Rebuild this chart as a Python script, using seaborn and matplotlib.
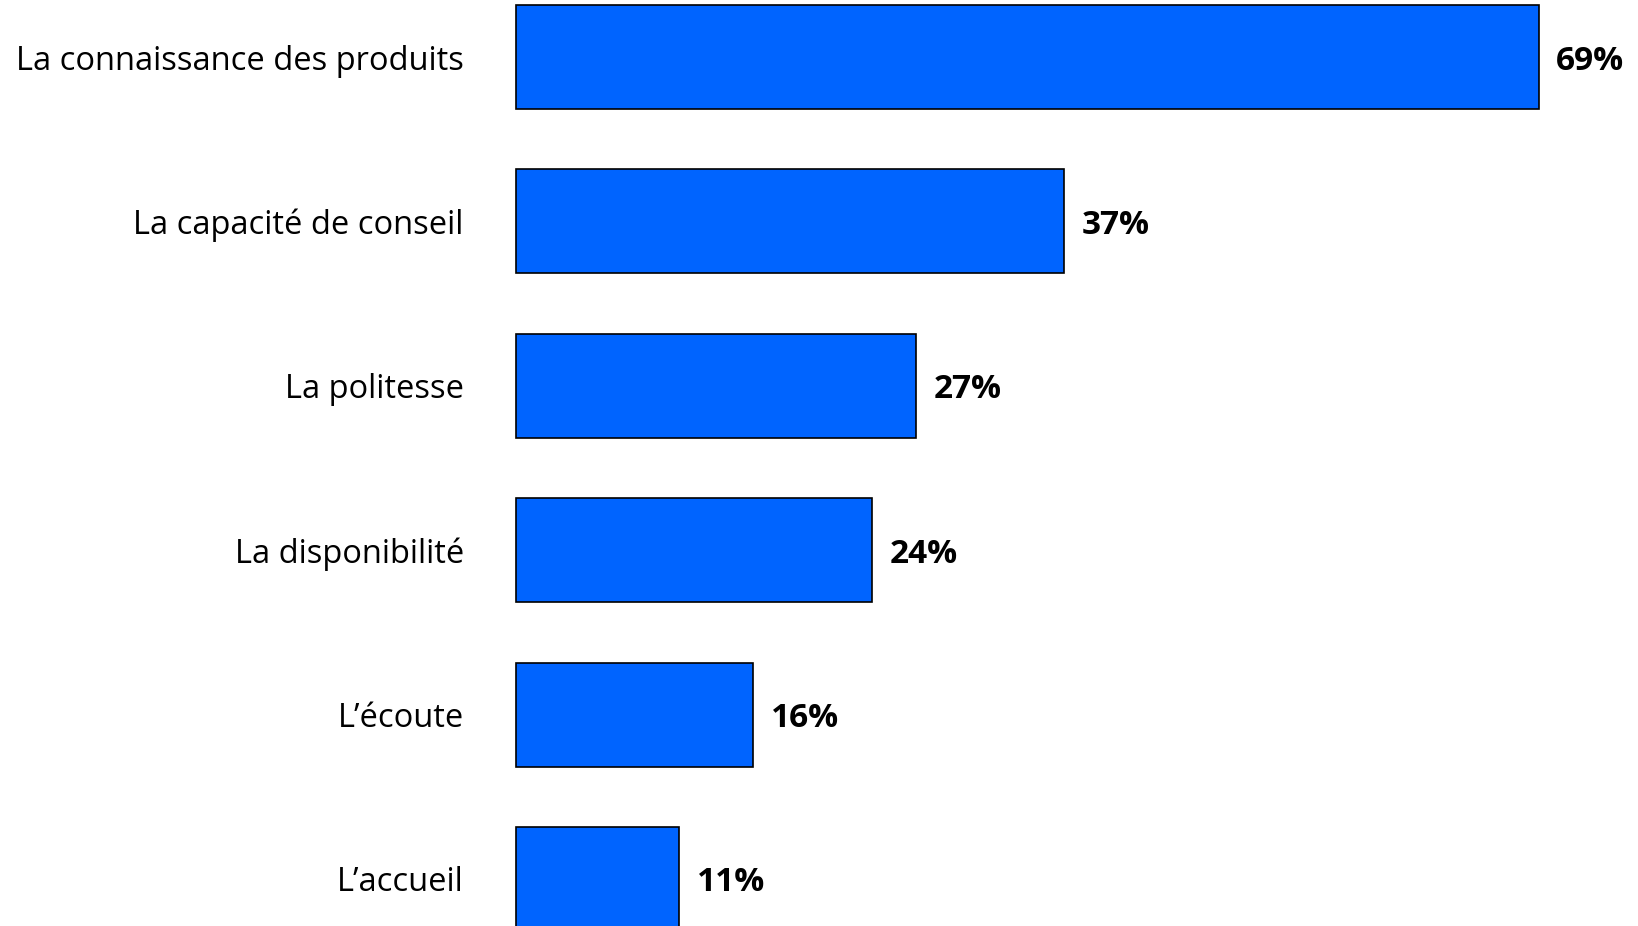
import matplotlib
matplotlib.use("Agg")
import matplotlib.pyplot as plt
import seaborn as sns
import pandas as pd

categories = [
    "La connaissance des produits",
    "La capacité de conseil",
    "La politesse",
    "La disponibilité",
    "L\u2019écoute",
    "L\u2019accueil",
]
values = [69, 37, 27, 24, 16, 11]

df = pd.DataFrame({"critere": categories, "pct": values})

sns.set_theme(style="white")
plt.rcParams["font.family"] = ["Open Sans", "DejaVu Sans"]

fig = plt.figure(figsize=(16.38, 9.26), dpi=100)
ax = fig.add_axes([511 / 1638, 0, 1 - 511 / 1638, 1])

sns.barplot(data=df, x="pct", y="critere", orient="h", color="#0064FF",
            saturation=1, width=0.633, edgecolor="black", linewidth=1.2, ax=ax)

ax.set_xlim(-0.337, 75.71)
ax.set_ylim(5.286, -0.347)

for i, v in enumerate(values):
    ax.text(v + 1.2, i, f"{v}%", va="center_baseline", ha="left",
            fontsize=24, fontweight="bold", color="black")

ax.set_xlabel("")
ax.set_ylabel("")
ax.set_xticks([])
ax.tick_params(axis="y", length=0, pad=34, labelsize=23.5, labelcolor="black")
for s in ax.spines.values():
    s.set_visible(False)

fig.savefig("out.png", dpi=100)
